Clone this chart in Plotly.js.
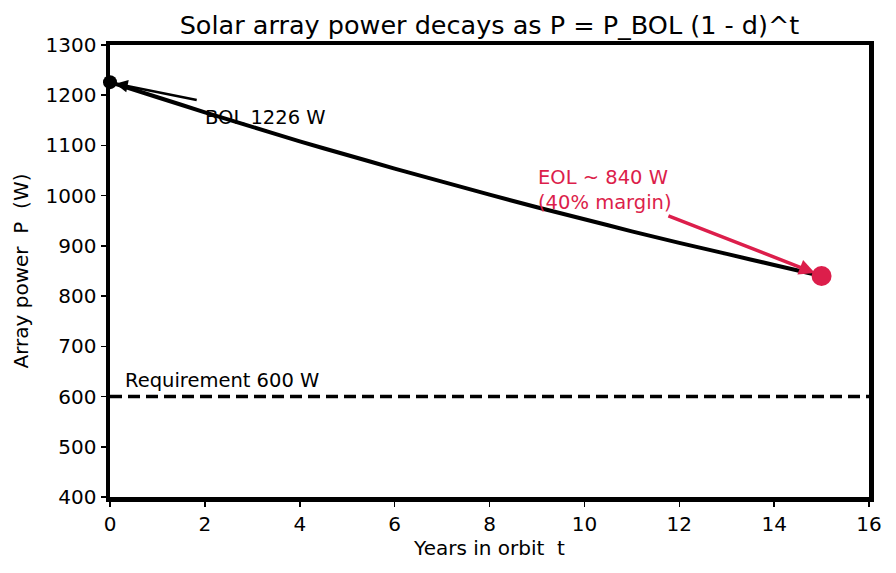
<!DOCTYPE html>
<html>
<head>
<meta charset="utf-8">
<script src="https://cdn.plot.ly/plotly-3.0.1.min.js"></script>
<style>
  html, body { margin: 0; padding: 0; background: #ffffff; }
  #chart { width: 896px; height: 573px; }
</style>
</head>
<body>
<div id="chart"></div>
<script>
// Array output over the mission, one value per year in orbit
const years = [0, 1, 2, 3, 4, 5, 6, 7, 8, 9, 10, 11, 12, 13, 14, 15];
const power = [1226, 1196, 1166, 1137, 1108, 1081, 1054, 1028, 1002, 977, 953, 929, 906, 884, 862, 840];

// Beginning and end of life points
const bolYear = 0, bolPower = 1226;
const eolYear = 15, eolPower = 840;

// Power requirement
const reqPower = 600;
const reqSpan = [0, 16];

const red = '#DC1E4B';
const font = 'DejaVu Sans, sans-serif';

const traces = [
  {
    x: years, y: power, type: 'scatter', mode: 'lines',
    line: { color: '#000000', width: 4, shape: 'spline', smoothing: 0.6 },
    hoverinfo: 'skip', showlegend: false
  },
  {
    x: reqSpan, y: [reqPower, reqPower], type: 'scatter', mode: 'lines',
    line: { color: '#000000', width: 3.5, dash: '12px,6px' },
    showlegend: false
  },
  {
    x: [bolYear], y: [bolPower], type: 'scatter', mode: 'markers',
    marker: { color: '#000000', size: 14 }, cliponaxis: false, showlegend: false
  },
  {
    x: [eolYear], y: [eolPower], type: 'scatter', mode: 'markers',
    marker: { color: red, size: 20 }, cliponaxis: false, showlegend: false
  }
];

const layout = {
  width: 896, height: 573,
  margin: { l: 110, r: 27, t: 45, b: 76 },
  paper_bgcolor: '#ffffff', plot_bgcolor: '#ffffff',
  font: { family: font, color: '#000000', size: 20 },
  title: {
    text: 'Solar array power decays as P = P_BOL (1 - d)^t',
    font: { family: font, size: 25.5, color: '#000000' },
    x: 0.5, xanchor: 'center', xref: 'paper',
    y: 0.957, yanchor: 'middle', yref: 'container'
  },
  xaxis: {
    range: [0, 16], tickvals: [0, 2, 4, 6, 8, 10, 12, 14, 16],
    showgrid: false, zeroline: false,
    showline: true, linewidth: 4.5, linecolor: '#000000', mirror: true,
    ticks: 'outside', ticklen: 5, tickwidth: 1.5, tickcolor: '#000000',
    tickfont: { size: 20 },
    title: { text: 'Years in orbit  t', font: { size: 20 }, standoff: 7 }
  },
  yaxis: {
    range: [400, 1300], tickvals: [400, 500, 600, 700, 800, 900, 1000, 1100, 1200, 1300],
    showgrid: false, zeroline: false,
    showline: true, linewidth: 4.5, linecolor: '#000000', mirror: true,
    ticks: 'outside', ticklen: 5, tickwidth: 1.5, tickcolor: '#000000',
    tickfont: { size: 20 },
    title: { text: 'Array power  P  (W)', font: { size: 20 }, standoff: 13 }
  },
  annotations: [
    {
      x: 0.11, y: 1223, ax: 1.86, ay: 1190, xref: 'x', yref: 'y', axref: 'x', ayref: 'y',
      text: '', showarrow: true, arrowhead: 2, arrowsize: 1, arrowwidth: 2.5, arrowcolor: '#000000'
    },
    {
      x: 1.97, y: 1156, xref: 'x', yref: 'y', xanchor: 'left', yanchor: 'middle',
      text: 'BOL 1226 W', showarrow: false, font: { size: 19.5, color: '#000000' }
    },
    {
      x: 14.86, y: 846, ax: 11.74, ay: 961, xref: 'x', yref: 'y', axref: 'x', ayref: 'y',
      text: '', showarrow: true, arrowhead: 2, arrowsize: 0.9, arrowwidth: 3.5, arrowcolor: red
    },
    {
      x: 8.97, y: 1012, xref: 'x', yref: 'y', xanchor: 'left', yanchor: 'middle', align: 'left',
      text: 'EOL ~ 840 W<br>(40% margin)', showarrow: false, font: { size: 19.5, color: red }
    },
    {
      x: 0.27, y: 631, xref: 'x', yref: 'y', xanchor: 'left', yanchor: 'middle',
      text: 'Requirement 600 W', showarrow: false, font: { size: 19.5, color: '#000000' }
    }
  ]
};

Plotly.newPlot('chart', traces, layout, { displayModeBar: false, staticPlot: true });
</script>
</body>
</html>
